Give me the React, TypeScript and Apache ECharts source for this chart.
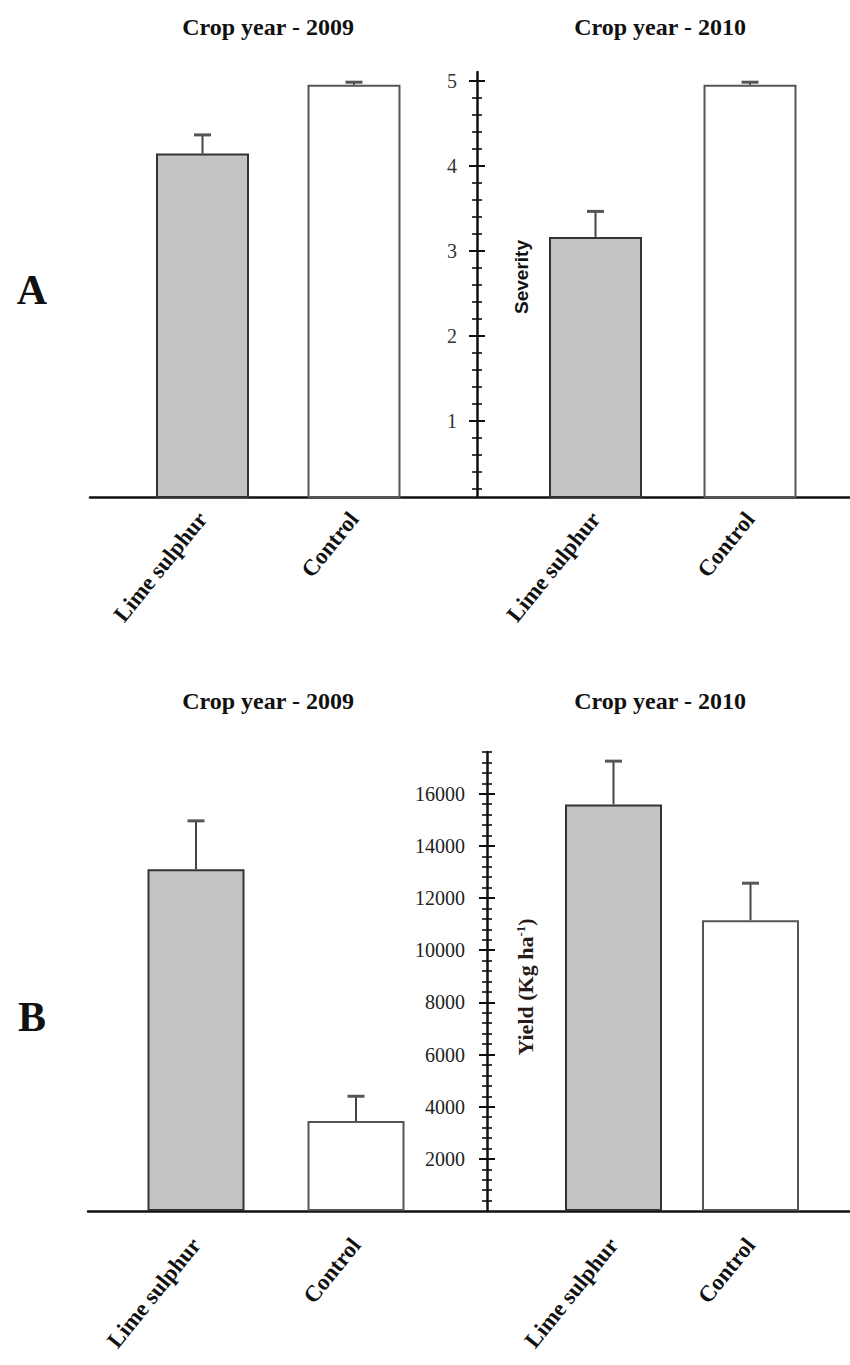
import React, { useEffect, useRef } from 'react';
import * as echarts from 'echarts';

// ---- data ----
const categories = ['Lime sulphur', 'Control'];
const severity2009 = [4.14, 4.95];
const severityErr2009 = [0.22, 0.03];
const severity2010 = [3.16, 4.95];
const severityErr2010 = [0.3, 0.03];
const yield2009 = [13100, 3450];
const yieldErr2009 = [1860, 950];
const yield2010 = [15590, 11150];
const yieldErr2010 = [1660, 1420];
const severityTickLabels = [1, 2, 3, 4, 5];
const yieldTickLabels = [2000, 4000, 6000, 8000, 10000, 12000, 14000, 16000];
const severityRange = [0.1, 5.1];
const yieldRange = [0, 17600];
const severityMinorStep = 0.2;
const yieldMinorStep = 400;
const panelTitles = ['Crop year - 2009', 'Crop year - 2010'];
const panelLetters = ['A', 'B'];
const severityName = 'Severity';

const SERIF = "'Liberation Serif', 'Times New Roman', serif";
const SANS = "'Liberation Sans', Arial, sans-serif";

function minorTicks(range: number[], step: number): number[] {
  const out: number[] = [];
  for (let k = 1; k * step < range[1] + 1e-9; k++) {
    const v = Math.round(k * step * 1000) / 1000;
    if (v > range[0]) out.push(v);
  }
  return out;
}

function tickAxes(gridIndex: number, range: number[], majors: number[], minors: number[], offset: number, labelMargin: number, labelColor: string) {
  const base = {
    type: 'value',
    gridIndex,
    min: range[0],
    max: range[1],
    position: 'left',
    offset,
    splitLine: { show: false },
  };
  return [
    {
      ...base,
      axisLine: { show: true, lineStyle: { color: '#111', width: 2.5 } },
      axisTick: { show: true, customValues: majors, length: 8, inside: false, lineStyle: { color: '#111', width: 2 } },
      axisLabel: {
        show: true,
        customValues: majors,
        margin: labelMargin,
        color: labelColor,
        fontFamily: SERIF,
        fontSize: 20,
        formatter: (v: number) => String(v),
      },
    },
    {
      ...base,
      axisLine: { show: false },
      axisLabel: { show: false },
      axisTick: { show: true, customValues: majors, length: 8, inside: true, lineStyle: { color: '#111', width: 2 } },
    },
    {
      ...base,
      axisLine: { show: false },
      axisLabel: { show: false },
      axisTick: { show: true, customValues: minors, length: 5, inside: false, lineStyle: { color: '#111', width: 1.6 } },
    },
    {
      ...base,
      axisLine: { show: false },
      axisLabel: { show: false },
      axisTick: { show: true, customValues: minors, length: 5, inside: true, lineStyle: { color: '#111', width: 1.6 } },
    },
  ];
}

const barColors = ['#c3c3c3', '#ffffff'];
const barBorders = ['#333333', '#555555'];

function barSeries(xIdx: number, yIdx: number, values: number[], width: number) {
  return {
    type: 'bar',
    xAxisIndex: xIdx,
    yAxisIndex: yIdx,
    barWidth: width,
    clip: true,
    z: 2,
    data: values.map((v, i) => ({
      value: v,
      itemStyle: { color: barColors[i], borderColor: barBorders[i], borderWidth: 2 },
    })),
  };
}

function errSeries(xIdx: number, yIdx: number, values: number[], errs: number[]) {
  return {
    type: 'custom',
    xAxisIndex: xIdx,
    yAxisIndex: yIdx,
    z: 3,
    clip: false,
    encode: { x: 0, y: 1 },
    data: values.map((v, i) => [i, v, errs[i]]),
    renderItem: (params: any, api: any) => {
      const c = api.value(0);
      const v = api.value(1);
      const e = api.value(2);
      const lo = api.coord([c, v]);
      const hi = api.coord([c, v + e]);
      return {
        type: 'group',
        children: [
          { type: 'line', shape: { x1: lo[0], y1: lo[1], x2: hi[0], y2: hi[1] }, style: { stroke: '#444', lineWidth: 2 } },
          { type: 'line', shape: { x1: hi[0] - 8.5, y1: hi[1], x2: hi[0] + 8.5, y2: hi[1] }, style: { stroke: '#555', lineWidth: 3 } },
        ],
      };
    },
  };
}

export default function App() {
  const ref = useRef<HTMLDivElement>(null);
  useEffect(() => {
    document.body.style.margin = '0';
    if (!ref.current) return;
    const chart = echarts.init(ref.current, null, { renderer: 'svg' });

    const topY = 72, topH = 425;
    const botY = 752, botH = 459;

    const grids = [
      { left: 90, top: topY, width: 760, height: topH },
      { left: 126.75, top: topY, width: 303, height: topH },
      { left: 518.25, top: topY, width: 309, height: topH },
      { left: 88, top: botY, width: 762, height: botH },
      { left: 116, top: botY, width: 320, height: botH },
      { left: 545, top: botY, width: 274, height: botH },
    ].map((g) => ({ ...g, containLabel: false, outerBoundsMode: 'none' }));

    const baseX = (gi: number) => ({
      type: 'value', gridIndex: gi, min: 0, max: 1,
      axisLine: { show: true, onZero: false, lineStyle: { color: '#111', width: 2.5 } },
      axisTick: { show: false }, axisLabel: { show: false }, splitLine: { show: false },
    });
    const catX = (gi: number, margin: number) => ({
      type: 'category', gridIndex: gi, data: categories,
      axisLine: { show: false }, axisTick: { show: false }, splitLine: { show: false },
      axisLabel: {
        interval: 0, rotate: 51, margin, color: '#111',
        fontFamily: SERIF, fontWeight: 'bold', fontSize: 23,
      },
    });
    const hiddenY = (gi: number, range: number[]) => ({ type: 'value', gridIndex: gi, min: range[0], max: range[1], show: false });

    const sevMinor = minorTicks(severityRange, severityMinorStep);
    const yldMinor = minorTicks(yieldRange, yieldMinorStep);

    const xAxis = [baseX(0), catX(1, 18), catX(2, 18), baseX(3), catX(4, 30), catX(5, 30)];
    const yAxis: any[] = [
      hiddenY(0, [0, 1]), // 0
      hiddenY(1, severityRange), // 1
      ...tickAxes(2, severityRange, severityTickLabels, sevMinor, 41.25, 20, '#333'), // 2-5
      hiddenY(3, [0, 1]), // 6
      hiddenY(4, yieldRange), // 7
      ...tickAxes(5, yieldRange, yieldTickLabels, yldMinor, 58, 22, '#222'), // 8-11
    ];

    const series = [
      barSeries(1, 1, severity2009, 93),
      errSeries(1, 1, severity2009, severityErr2009),
      barSeries(2, 2, severity2010, 93),
      errSeries(2, 2, severity2010, severityErr2010),
      barSeries(4, 7, yield2009, 97),
      errSeries(4, 7, yield2009, yieldErr2009),
      barSeries(5, 8, yield2010, 97),
      errSeries(5, 8, yield2010, yieldErr2010),
    ];

    const titleStyle = (text: string) => ({
      text, fill: '#111', font: `bold 24px ${SERIF}`, align: 'center', verticalAlign: 'middle',
    });

    const graphic = [
      { type: 'text', x: 268, y: 27, style: titleStyle(panelTitles[0]) },
      { type: 'text', x: 660, y: 27, style: titleStyle(panelTitles[1]) },
      { type: 'text', x: 268, y: 701, style: titleStyle(panelTitles[0]) },
      { type: 'text', x: 660, y: 701, style: titleStyle(panelTitles[1]) },
      { type: 'text', x: 32, y: 290, style: { text: panelLetters[0], fill: '#111', font: `bold 42px ${SERIF}`, align: 'center', verticalAlign: 'middle' } },
      { type: 'text', x: 32, y: 1017, style: { text: panelLetters[1], fill: '#111', font: `bold 42px ${SERIF}`, align: 'center', verticalAlign: 'middle' } },
      {
        type: 'text', x: 521, y: 277, rotation: Math.PI / 2,
        style: { text: severityName, fill: '#111', font: `bold 19px ${SANS}`, align: 'center', verticalAlign: 'middle' },
      },
      {
        type: 'text', x: 525, y: 987, rotation: Math.PI / 2,
        style: {
          text: '{a|Yield (Kg ha}{s|-1}{a|)}',
          align: 'center', verticalAlign: 'middle',
          rich: {
            a: { fontFamily: SERIF, fontWeight: 'bold', fontSize: 22, fill: '#2a1a1a', color: '#2a1a1a' },
            s: { fontFamily: SERIF, fontWeight: 'bold', fontSize: 13, fill: '#2a1a1a', color: '#2a1a1a', verticalAlign: 'top', padding: [0, 0, 10, 0] },
          },
        },
      },
    ];

    chart.setOption({
      animation: false,
      backgroundColor: '#ffffff',
      grid: grids,
      xAxis,
      yAxis,
      series,
      graphic,
    });
    return () => chart.dispose();
  }, []);
  return <div ref={ref} style={{ width: 850, height: 1365 }} />;
}
